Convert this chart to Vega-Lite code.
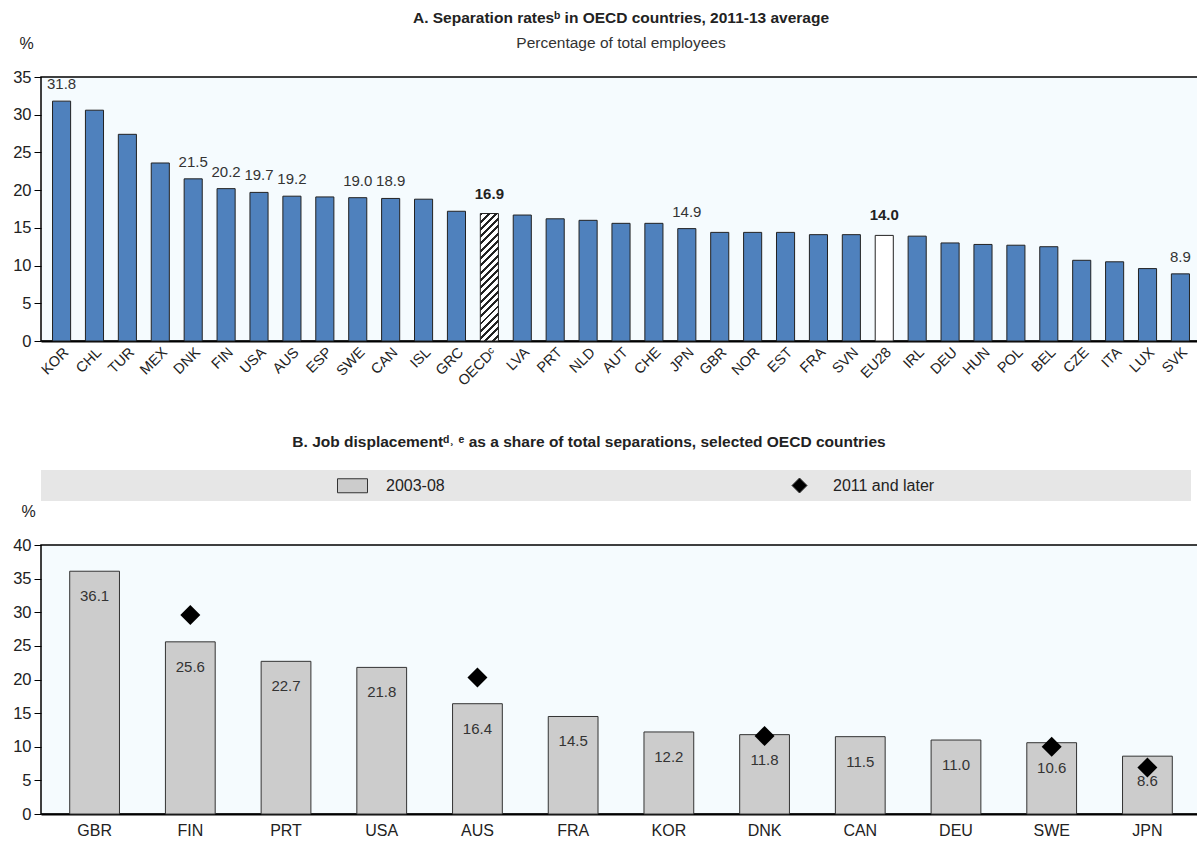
{
  "$schema": "https://vega.github.io/schema/vega-lite/v6.json",
  "padding": {"top": 10, "left": 11, "right": 0, "bottom": 0},
  "background": "white",
  "bounds": "flush",
  "spacing": 129,
  "datasets": {
    "sep": [
      {"country": "KOR", "value": 31.8, "label": true},
      {"country": "CHL", "value": 30.6, "label": false},
      {"country": "TUR", "value": 27.4, "label": false},
      {"country": "MEX", "value": 23.6, "label": false},
      {"country": "DNK", "value": 21.5, "label": true},
      {"country": "FIN", "value": 20.2, "label": true},
      {"country": "USA", "value": 19.7, "label": true},
      {"country": "AUS", "value": 19.2, "label": true},
      {"country": "ESP", "value": 19.1, "label": false},
      {"country": "SWE", "value": 19.0, "label": true},
      {"country": "CAN", "value": 18.9, "label": true},
      {"country": "ISL", "value": 18.8, "label": false},
      {"country": "GRC", "value": 17.2, "label": false},
      {"country": "OECDᶜ", "value": 16.9, "label": true},
      {"country": "LVA", "value": 16.7, "label": false},
      {"country": "PRT", "value": 16.2, "label": false},
      {"country": "NLD", "value": 16.0, "label": false},
      {"country": "AUT", "value": 15.6, "label": false},
      {"country": "CHE", "value": 15.6, "label": false},
      {"country": "JPN", "value": 14.9, "label": true},
      {"country": "GBR", "value": 14.4, "label": false},
      {"country": "NOR", "value": 14.4, "label": false},
      {"country": "EST", "value": 14.4, "label": false},
      {"country": "FRA", "value": 14.1, "label": false},
      {"country": "SVN", "value": 14.1, "label": false},
      {"country": "EU28", "value": 14.0, "label": true},
      {"country": "IRL", "value": 13.9, "label": false},
      {"country": "DEU", "value": 13.0, "label": false},
      {"country": "HUN", "value": 12.8, "label": false},
      {"country": "POL", "value": 12.7, "label": false},
      {"country": "BEL", "value": 12.5, "label": false},
      {"country": "CZE", "value": 10.7, "label": false},
      {"country": "ITA", "value": 10.5, "label": false},
      {"country": "LUX", "value": 9.6, "label": false},
      {"country": "SVK", "value": 8.9, "label": true}
    ],
    "disp": [
      {"country": "GBR", "series": "2003-08", "value": 36.1},
      {"country": "FIN", "series": "2003-08", "value": 25.6},
      {"country": "PRT", "series": "2003-08", "value": 22.7},
      {"country": "USA", "series": "2003-08", "value": 21.8},
      {"country": "AUS", "series": "2003-08", "value": 16.4},
      {"country": "FRA", "series": "2003-08", "value": 14.5},
      {"country": "KOR", "series": "2003-08", "value": 12.2},
      {"country": "DNK", "series": "2003-08", "value": 11.8},
      {"country": "CAN", "series": "2003-08", "value": 11.5},
      {"country": "DEU", "series": "2003-08", "value": 11.0},
      {"country": "SWE", "series": "2003-08", "value": 10.6},
      {"country": "JPN", "series": "2003-08", "value": 8.6},
      {"country": "FIN", "series": "2011 and later", "value": 29.6},
      {"country": "AUS", "series": "2011 and later", "value": 20.3},
      {"country": "DNK", "series": "2011 and later", "value": 11.6},
      {"country": "SWE", "series": "2011 and later", "value": 10.0},
      {"country": "JPN", "series": "2011 and later", "value": 6.9}
    ]
  },
  "config": {
    "font": "Liberation Sans",
    "view": {"stroke": "#000000", "strokeWidth": 1.5, "fill": "#F5FBFE"},
    "axis": {
      "labelFont": "Liberation Sans",
      "titleFont": "Liberation Sans",
      "labelColor": "#222222",
      "titleColor": "#222222",
      "grid": false
    },
    "legend": {"labelFont": "Liberation Sans"},
    "title": {"font": "Liberation Sans", "color": "#222222"}
  },
  "vconcat": [
    {
      "width": 1160,
      "height": 264,
      "title": {
        "text": "A. Separation ratesᵇ in OECD countries, 2011-13 average",
        "subtitle": "Percentage of total employees",
        "anchor": "middle",
        "fontSize": 15.5,
        "fontWeight": "bold",
        "subtitleFontSize": 15.5,
        "subtitleColor": "#333333",
        "subtitleFont": "Liberation Sans",
        "subtitlePadding": 9,
        "offset": -16
      },
      "data": {"name": "sep"},
      "encoding": {
        "x": {
          "field": "country",
          "type": "nominal",
          "sort": null,
          "scale": {"paddingInner": 0.45, "paddingOuter": 0.35},
          "axis": {
            "title": null,
            "labelAngle": -45,
            "labelFontSize": 14.5,
            "labelPadding": 4,
            "ticks": false,
            "domain": true,
            "domainColor": "#000000",
            "domainWidth": 2
          }
        },
        "y": {
          "field": "value",
          "type": "quantitative",
          "scale": {"domain": [0, 35], "nice": false},
          "axis": {
            "values": [0, 5, 10, 15, 20, 25, 30, 35],
            "title": "%",
            "titleAngle": 0,
            "titleX": -15,
            "titleY": -34,
            "titleAlign": "center",
            "titleBaseline": "middle",
            "titleFontWeight": "normal",
            "titleFontSize": 16,
            "labelFontSize": 16.5,
            "labelPadding": 3,
            "tickSize": 7,
            "tickColor": "#000000",
            "domain": false
          }
        }
      },
      "layer": [
        {
          "mark": {"type": "bar", "stroke": "#222222", "strokeWidth": 1},
          "encoding": {
            "fill": {
              "condition": [
                {
                  "test": "datum.country === 'OECDᶜ'",
                  "value": {
                    "gradient": "linear",
                    "x1": 0, "y1": 0, "x2": 0.159, "y2": 1.12,
                    "stops": [
                      {"offset": 0, "color": "#222222"}, {"offset": 0.02, "color": "#222222"}, {"offset": 0.02, "color": "#ffffff"}, {"offset": 0.05, "color": "#ffffff"},
                      {"offset": 0.05, "color": "#222222"}, {"offset": 0.07, "color": "#222222"}, {"offset": 0.07, "color": "#ffffff"}, {"offset": 0.10, "color": "#ffffff"},
                      {"offset": 0.10, "color": "#222222"}, {"offset": 0.12, "color": "#222222"}, {"offset": 0.12, "color": "#ffffff"}, {"offset": 0.15, "color": "#ffffff"},
                      {"offset": 0.15, "color": "#222222"}, {"offset": 0.17, "color": "#222222"}, {"offset": 0.17, "color": "#ffffff"}, {"offset": 0.20, "color": "#ffffff"},
                      {"offset": 0.20, "color": "#222222"}, {"offset": 0.22, "color": "#222222"}, {"offset": 0.22, "color": "#ffffff"}, {"offset": 0.25, "color": "#ffffff"},
                      {"offset": 0.25, "color": "#222222"}, {"offset": 0.27, "color": "#222222"}, {"offset": 0.27, "color": "#ffffff"}, {"offset": 0.30, "color": "#ffffff"},
                      {"offset": 0.30, "color": "#222222"}, {"offset": 0.32, "color": "#222222"}, {"offset": 0.32, "color": "#ffffff"}, {"offset": 0.35, "color": "#ffffff"},
                      {"offset": 0.35, "color": "#222222"}, {"offset": 0.37, "color": "#222222"}, {"offset": 0.37, "color": "#ffffff"}, {"offset": 0.40, "color": "#ffffff"},
                      {"offset": 0.40, "color": "#222222"}, {"offset": 0.42, "color": "#222222"}, {"offset": 0.42, "color": "#ffffff"}, {"offset": 0.45, "color": "#ffffff"},
                      {"offset": 0.45, "color": "#222222"}, {"offset": 0.47, "color": "#222222"}, {"offset": 0.47, "color": "#ffffff"}, {"offset": 0.50, "color": "#ffffff"},
                      {"offset": 0.50, "color": "#222222"}, {"offset": 0.52, "color": "#222222"}, {"offset": 0.52, "color": "#ffffff"}, {"offset": 0.55, "color": "#ffffff"},
                      {"offset": 0.55, "color": "#222222"}, {"offset": 0.57, "color": "#222222"}, {"offset": 0.57, "color": "#ffffff"}, {"offset": 0.60, "color": "#ffffff"},
                      {"offset": 0.60, "color": "#222222"}, {"offset": 0.62, "color": "#222222"}, {"offset": 0.62, "color": "#ffffff"}, {"offset": 0.65, "color": "#ffffff"},
                      {"offset": 0.65, "color": "#222222"}, {"offset": 0.67, "color": "#222222"}, {"offset": 0.67, "color": "#ffffff"}, {"offset": 0.70, "color": "#ffffff"},
                      {"offset": 0.70, "color": "#222222"}, {"offset": 0.72, "color": "#222222"}, {"offset": 0.72, "color": "#ffffff"}, {"offset": 0.75, "color": "#ffffff"},
                      {"offset": 0.75, "color": "#222222"}, {"offset": 0.77, "color": "#222222"}, {"offset": 0.77, "color": "#ffffff"}, {"offset": 0.80, "color": "#ffffff"},
                      {"offset": 0.80, "color": "#222222"}, {"offset": 0.82, "color": "#222222"}, {"offset": 0.82, "color": "#ffffff"}, {"offset": 0.85, "color": "#ffffff"},
                      {"offset": 0.85, "color": "#222222"}, {"offset": 0.87, "color": "#222222"}, {"offset": 0.87, "color": "#ffffff"}, {"offset": 0.90, "color": "#ffffff"},
                      {"offset": 0.90, "color": "#222222"}, {"offset": 0.92, "color": "#222222"}, {"offset": 0.92, "color": "#ffffff"}, {"offset": 0.95, "color": "#ffffff"},
                      {"offset": 0.95, "color": "#222222"}, {"offset": 0.97, "color": "#222222"}, {"offset": 0.97, "color": "#ffffff"}, {"offset": 1, "color": "#ffffff"}
                    ]
                  }
                },
                {"test": "datum.country === 'EU28'", "value": "#ffffff"}
              ],
              "value": "#4F81BD"
            }
          }
        },
        {
          "transform": [{"filter": "datum.label && datum.country !== 'OECDᶜ' && datum.country !== 'EU28'"}],
          "mark": {"type": "text", "baseline": "bottom", "dy": -9, "fontSize": 15, "color": "#333333"},
          "encoding": {"text": {"field": "value", "type": "quantitative", "format": ".1f"}}
        },
        {
          "transform": [{"filter": "datum.country === 'OECDᶜ' || datum.country === 'EU28'"}],
          "mark": {"type": "text", "baseline": "bottom", "dy": -12, "fontSize": 15, "fontWeight": "bold", "color": "#222222"},
          "encoding": {"text": {"field": "value", "type": "quantitative", "format": ".1f"}}
        }
      ]
    },
    {
      "bounds": "flush",
      "spacing": 44,
      "vconcat": [
        {
          "width": 1150,
          "height": 31,
          "view": {"fill": "#E6E6E6", "stroke": null},
          "title": {
            "text": "B. Job displacementᵈ˒ ᵉ as a share of total separations, selected OECD countries",
            "anchor": "middle",
            "dx": -27,
            "fontSize": 15.5,
            "fontWeight": "bold",
            "offset": 20
          },
          "data": {"values": []},
          "mark": "point"
        },
        {
          "width": 1160,
          "height": 269,
          "data": {"name": "disp"},
          "encoding": {
            "x": {
              "field": "country",
              "type": "nominal",
              "sort": null,
              "scale": {"paddingInner": 0.48, "paddingOuter": 0.3},
              "axis": {
                "title": null,
                "labelAngle": 0,
                "labelFontSize": 16,
                "labelPadding": 8,
                "ticks": false,
                "domain": true,
                "domainColor": "#000000",
                "domainWidth": 2
              }
            },
            "y": {
              "field": "value",
              "type": "quantitative",
              "scale": {"domain": [0, 40], "nice": false},
              "axis": {
                "values": [0, 5, 10, 15, 20, 25, 30, 35, 40],
                "title": "%",
                "titleAngle": 0,
                "titleX": -13,
                "titleY": -34,
                "titleAlign": "center",
                "titleBaseline": "middle",
                "titleFontWeight": "normal",
                "titleFontSize": 16,
                "labelFontSize": 16.5,
                "labelPadding": 3,
                "tickSize": 7,
                "tickColor": "#000000",
                "domain": false
              }
            }
          },
          "layer": [
            {
              "transform": [{"filter": "datum.series === '2003-08'"}],
              "mark": {"type": "bar", "stroke": "#333333", "strokeWidth": 1, "opacity": 1},
              "encoding": {
                "color": {
                  "field": "series",
                  "type": "nominal",
                  "scale": {"domain": ["2003-08", "2011 and later"], "range": ["#CCCCCC", "#000000"]},
                  "legend": {
                    "title": null,
                    "orient": "none",
                    "direction": "horizontal",
                    "legendX": 301,
                    "legendY": 398,
                    "symbolSize": 400,
                    "symbolStrokeColor": "#333333",
                    "symbolStrokeWidth": 1,
                    "labelFontSize": 16,
                    "labelColor": "#222222",
                    "labelOffset": 23,
                    "columnPadding": 344
                  }
                }
              }
            },
            {
              "transform": [{"filter": "datum.series === '2003-08'"}],
              "mark": {"type": "text", "baseline": "middle", "dy": 25, "fontSize": 15, "color": "#333333"},
              "encoding": {"text": {"field": "value", "type": "quantitative", "format": ".1f"}}
            },
            {
              "transform": [{"filter": "datum.series === '2011 and later'"}],
              "mark": {"type": "point", "filled": true, "size": 711, "opacity": 1, "strokeWidth": 0},
              "encoding": {
                "color": {"field": "series", "type": "nominal"},
                "shape": {
                  "field": "series",
                  "type": "nominal",
                  "scale": {
                    "domain": ["2003-08", "2011 and later"],
                    "range": ["M-1.5,-0.7H1.5V0.7H-1.5Z", "M-0.75,0L0,-0.75L0.75,0L0,0.75Z"]
                  }
                }
              }
            }
          ]
        }
      ]
    }
  ]
}
